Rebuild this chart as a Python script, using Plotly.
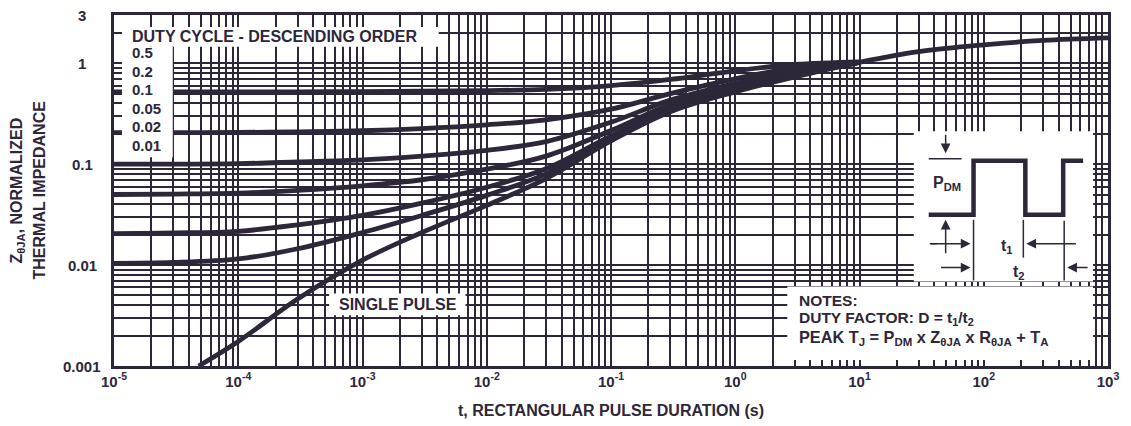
import math
import plotly.graph_objects as go

# ---- data -------------------------------------------------------------
t_duty = [1e-5, 3e-5, 1e-4, 3e-4, 1e-3, 3e-3, 1e-2, 3e-2, 1e-1, 3e-1, 1, 3, 10]

z_d050 = [0.52, 0.52, 0.52, 0.52, 0.522, 0.527, 0.535, 0.55, 0.60, 0.69, 0.84, 0.97, 1.03]
z_d020 = [0.205, 0.205, 0.206, 0.209, 0.214, 0.225, 0.245, 0.275, 0.35, 0.50, 0.70, 0.90, 1.02]
z_d010 = [0.100, 0.100, 0.101, 0.105, 0.110, 0.120, 0.137, 0.167, 0.26, 0.43, 0.63, 0.84, 1.02]
z_d005 = [0.050, 0.0505, 0.0515, 0.055, 0.061, 0.070, 0.089, 0.120, 0.215, 0.39, 0.59, 0.80, 1.02]
z_d002 = [0.0205, 0.0208, 0.0216, 0.025, 0.031, 0.041, 0.059, 0.090, 0.19, 0.36, 0.56, 0.77, 1.02]
z_d001 = [0.0104, 0.0106, 0.0115, 0.0145, 0.021, 0.031, 0.049, 0.080, 0.18, 0.345, 0.54, 0.75, 1.02]

t_single = [4.8e-5, 1e-4, 3e-4, 1e-3, 3e-3, 1e-2, 3e-2, 1e-1, 3e-1, 1, 3, 10, 30, 100, 300, 1000]
z_single = [0.001, 0.00175, 0.0046, 0.0112, 0.021, 0.039, 0.072, 0.17, 0.33, 0.52, 0.73, 1.02, 1.30, 1.52, 1.68, 1.78]

duty_labels = ["0.5", "0.2", "0.1", "0.05", "0.02", "0.01"]
x_decades = [-5, -4, -3, -2, -1, 0, 1, 2, 3]
y_tick_values = [3, 1, 0.1, 0.01, 0.001]
y_tick_labels = ["3", "1", "0.1", "0.01", "0.001"]

# ---- styling ----------------------------------------------------------
INK = "#2e2639"
FONT = "Liberation Sans, Arial, sans-serif"
W_FIG, H_FIG = 1131, 426
M_L, M_R, M_T, M_B = 114, 19, 13, 60
PW = W_FIG - M_L - M_R
PH = H_FIG - M_T - M_B


def px(x):
    """pixel column -> paper x"""
    return (x - M_L) / PW


def py(y):
    """pixel row -> paper y"""
    return (H_FIG - M_B - y) / PH


fig = go.Figure()

for z in [z_d050, z_d020, z_d010, z_d005, z_d002, z_d001]:
    fig.add_trace(go.Scatter(x=t_duty, y=z, mode="lines",
                             line=dict(color=INK, width=4.8, shape="spline"),
                             hoverinfo="skip"))
fig.add_trace(go.Scatter(x=t_single, y=z_single, mode="lines",
                         line=dict(color=INK, width=4.8, shape="spline"),
                         hoverinfo="skip"))

# decade lines carry the labels, the 2..9 multiples are minor grid lines
x_major = [10.0 ** d for d in x_decades]
x_major_text = ["10<sup>%d</sup>" % d for d in x_decades]
x_minor = [m * 10.0 ** d for d in x_decades[:-1] for m in range(2, 10)]
y_major = [0.001, 0.01, 0.1, 1.0]
y_minor = [m * 10.0 ** d for d in range(-3, 0) for m in range(2, 10)] + [2.0, 3.0]

axis_common = dict(type="log", showgrid=True, gridcolor=INK, gridwidth=2,
                   showline=True, linecolor=INK, linewidth=2.5, mirror=True,
                   ticks="", zeroline=False)

fig.update_xaxes(range=[-5, 3], tickmode="array", tickvals=x_major, ticktext=x_major_text,
                 tickfont=dict(family=FONT, size=15, color=INK, weight="bold"),
                 minor=dict(tickmode="array", tickvals=x_minor, showgrid=True,
                            gridcolor=INK, gridwidth=2, ticks=""),
                 **axis_common)
fig.update_yaxes(range=[-3, math.log10(3)], tickmode="array", tickvals=y_major,
                 showticklabels=False,
                 minor=dict(tickmode="array", tickvals=y_minor, showgrid=True,
                            gridcolor=INK, gridwidth=2, ticks=""),
                 **axis_common)

shapes = []
annotations = []


def white_box(x0, y0, x1, y1):
    shapes.append(dict(type="rect", xref="paper", yref="paper", layer="above",
                       x0=px(x0), x1=px(x1), y0=py(y1), y1=py(y0),
                       fillcolor="white", line=dict(width=0)))


def text(x, y, s, size=16, anchor="left"):
    annotations.append(dict(xref="paper", yref="paper", x=px(x), y=py(y), text=s,
                            showarrow=False, xanchor=anchor, yanchor="middle",
                            font=dict(family=FONT, size=size, color=INK, weight="bold")))


def seg(x0, y0, x1, y1, w=1.5):
    shapes.append(dict(type="line", xref="paper", yref="paper", layer="above",
                       x0=px(x0), y0=py(y0), x1=px(x1), y1=py(y1),
                       line=dict(color=INK, width=w)))


def arrow(xt, yt, xh, yh):
    annotations.append(dict(xref="paper", yref="paper", x=px(xh), y=py(yh),
                            ax=xt - xh, ay=yt - yh, text="", showarrow=True,
                            arrowhead=2, arrowsize=1.3, arrowwidth=1.5,
                            arrowcolor=INK, standoff=0))


# label panels
white_box(122, 25, 440, 45)
white_box(122, 45, 173, 156)
white_box(330, 293, 467, 315)
white_box(917, 130, 1097, 281)
white_box(790, 286, 1097, 360)

# legend
text(130, 35, "DUTY CYCLE - DESCENDING ORDER")
for i, lab in enumerate(duty_labels):
    text(130, 51 + i * 18.6, lab, size=15)

text(399, 304, "SINGLE PULSE", anchor="center")

# notes
text(800, 300, "NOTES:", size=15.5)
text(800, 318, "DUTY FACTOR: D = t<sub>1</sub>/t<sub>2</sub>", size=15.5)
text(800, 338, "PEAK T<sub>J</sub> = P<sub>DM</sub> x Z<sub>θJA</sub> x R<sub>θJA</sub> + T<sub>A</sub>",
     size=16.3)

# pulse diagram
pulse = [(932, 214), (977, 214), (977, 159.5), (1029, 159.5), (1029, 214),
         (1067, 214), (1067, 159.5), (1087, 159.5)]
path = "M " + " L ".join("%f,%f" % (px(a), py(b)) for a, b in pulse)
shapes.append(dict(type="path", xref="paper", yref="paper", layer="above", path=path,
                   line=dict(color=INK, width=4.5)))
seg(932, 157.5, 965, 157.5)
seg(977, 219, 977, 280)
seg(1027, 219, 1027, 257)
seg(1068, 220, 1068, 280)
seg(933, 243, 940, 243)
arrow(949, 132, 949, 152)
arrow(949, 254, 949, 219)
arrow(933, 243, 974, 243)
arrow(1081, 243, 1030, 243)
arrow(943, 267, 974, 267)
arrow(1093, 267, 1071, 267)
text(950, 182, "P<sub>DM</sub>", anchor="center")
text(1011, 246, "t<sub>1</sub>", anchor="center")
text(1023, 272, "t<sub>2</sub>", anchor="center")

# y tick labels, centred under one another
for v, lab in zip(y_tick_values, y_tick_labels):
    annotations.append(dict(xref="paper", yref="y", x=0, xshift=-32, y=math.log10(v),
                            text=lab, showarrow=False, xanchor="center", yanchor="middle",
                            font=dict(family=FONT, size=15, color=INK, weight="bold")))

# axis titles
annotations.append(dict(xref="paper", yref="paper", x=0, xshift=-97, y=0.5,
                        text="Z<sub>θJA</sub>, NORMALIZED", textangle=-90, showarrow=False,
                        xanchor="center", yanchor="middle",
                        font=dict(family=FONT, size=16, color=INK, weight="bold")))
annotations.append(dict(xref="paper", yref="paper", x=0, xshift=-75, y=0.5,
                        text="THERMAL IMPEDANCE", textangle=-90, showarrow=False,
                        xanchor="center", yanchor="middle",
                        font=dict(family=FONT, size=16, color=INK, weight="bold")))
annotations.append(dict(xref="paper", yref="paper", x=0.5, y=0, yshift=-44,
                        text="t, RECTANGULAR PULSE DURATION (s)", showarrow=False,
                        xanchor="center", yanchor="middle",
                        font=dict(family=FONT, size=16, color=INK, weight="bold")))

fig.update_layout(width=W_FIG, height=H_FIG, showlegend=False,
                  margin=dict(l=M_L, r=M_R, t=M_T, b=M_B),
                  paper_bgcolor="white", plot_bgcolor="white",
                  shapes=shapes, annotations=annotations)

fig.write_html("out.html")
